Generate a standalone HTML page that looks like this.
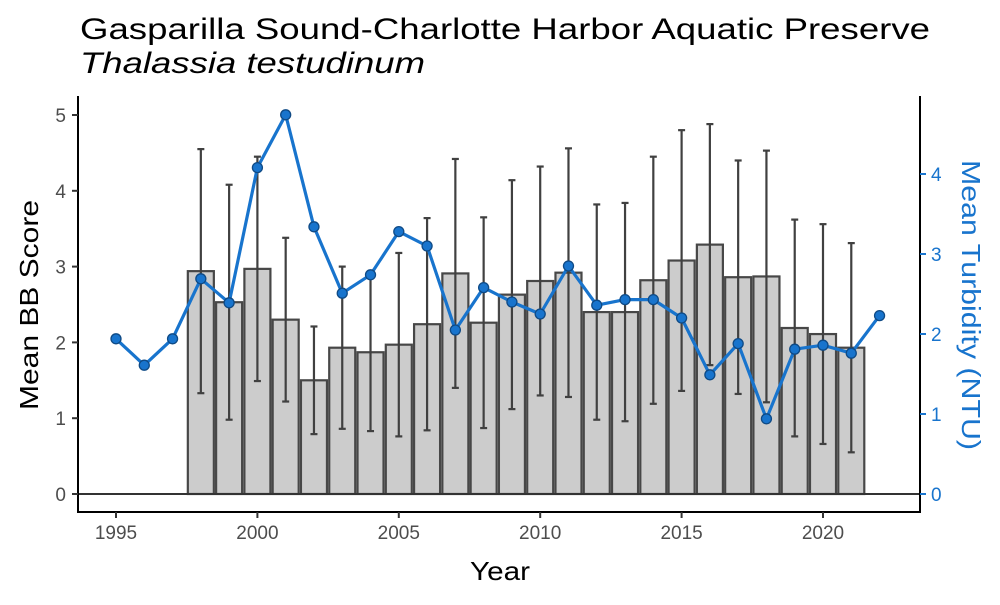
<!DOCTYPE html>
<html><head><meta charset="utf-8"><style>
body{margin:0;background:#fff}
svg text{font-family:"Liberation Sans",Arial,sans-serif}
</style></head><body>
<svg id="c" width="1000" height="600" xmlns="http://www.w3.org/2000/svg">
<text x="80" y="39" font-size="30" textLength="850" lengthAdjust="spacingAndGlyphs" fill="#000">Gasparilla Sound-Charlotte Harbor Aquatic Preserve</text>
<text x="80" y="73" font-size="30" font-style="italic" textLength="345" lengthAdjust="spacingAndGlyphs" fill="#000">Thalassia testudinum</text>
<g id="bars"></g>
<g id="axes"></g>
<g id="line"></g>
<text x="500" y="580" font-size="26" text-anchor="middle" textLength="60" lengthAdjust="spacingAndGlyphs">Year</text>
<text transform="translate(38,305) rotate(-90)" font-size="26" text-anchor="middle" textLength="210" lengthAdjust="spacingAndGlyphs">Mean BB Score</text>
<text transform="translate(962,305) rotate(90)" font-size="26" text-anchor="middle" textLength="290" lengthAdjust="spacingAndGlyphs" fill="#1874cd">Mean Turbidity (NTU)</text>
</svg>
<script>
const barYears=[1998,1999,2000,2001,2002,2003,2004,2005,2006,2007,2008,2009,2010,2011,2012,2013,2014,2015,2016,2017,2018,2019,2020,2021];
const bbMean=[2.94,2.53,2.97,2.30,1.50,1.93,1.87,1.97,2.24,2.91,2.26,2.63,2.81,2.92,2.40,2.40,2.82,3.08,3.29,2.86,2.87,2.19,2.11,1.93];
const bbSd=[1.61,1.55,1.48,1.08,0.71,1.07,1.04,1.21,1.40,1.51,1.39,1.51,1.51,1.64,1.42,1.44,1.63,1.72,1.59,1.54,1.66,1.43,1.45,1.38];
const turbYears=[1995,1996,1997,1998,1999,2000,2001,2002,2003,2004,2005,2006,2007,2008,2009,2010,2011,2012,2013,2014,2015,2016,2017,2018,2019,2020,2021,2022];
const turb=[1.94,1.61,1.94,2.69,2.39,4.08,4.74,3.34,2.51,2.74,3.28,3.10,2.05,2.58,2.40,2.25,2.85,2.36,2.43,2.43,2.20,1.49,1.88,0.94,1.81,1.86,1.76,2.23];
const xTicks=[1995,2000,2005,2010,2015,2020];
const yTicks=[0,1,2,3,4,5];
const y2Ticks=[0,1,2,3,4];
const NS="http://www.w3.org/2000/svg";
const X=v=>116+(v-1995)*28.28;
const Y=v=>494-v*75.8;
const Y2=v=>494-v*80;
function mk(t,a,p){const e=document.createElementNS(NS,t);for(const k in a)e.setAttribute(k,a[k]);p.appendChild(e);return e;}
const bars=document.getElementById('bars'),axes=document.getElementById('axes'),line=document.getElementById('line');
const bw=28.28*0.92;
barYears.forEach((yr,i)=>{
 const r=mk('rect',{x:X(yr)-bw/2,y:Y(bbMean[i]),width:bw,height:Y(0)-Y(bbMean[i]),fill:'#cccccc',stroke:'#474747','stroke-width':2.2},bars);
 
 
});
barYears.forEach((yr,i)=>{
 const g=mk('g',{stroke:'#404040','stroke-width':2.2},bars);
 
 
 const hi=Y(bbMean[i]+bbSd[i]),lo=Y(bbMean[i]-bbSd[i]);
 mk('line',{x1:X(yr),x2:X(yr),y1:hi,y2:lo},g);
 mk('line',{x1:X(yr)-3.5,x2:X(yr)+3.5,y1:hi,y2:hi},g);
 mk('line',{x1:X(yr)-3.5,x2:X(yr)+3.5,y1:lo,y2:lo},g);
});
const z=mk('line',{x1:78,x2:920,y1:Y(0),y2:Y(0),stroke:'#333','stroke-width':2},axes);

mk('line',{x1:78,x2:78,y1:96,y2:512,stroke:'#000','stroke-width':2},axes);
mk('line',{x1:920,x2:920,y1:96,y2:512,stroke:'#000','stroke-width':2},axes);
mk('line',{x1:77,x2:921,y1:512,y2:512,stroke:'#000','stroke-width':2},axes);
yTicks.forEach(t=>{
 mk('line',{x1:72,x2:78,y1:Y(t),y2:Y(t),stroke:'#333','stroke-width':2},axes);
 const tx=mk('text',{x:66,y:Y(t)+7,'font-size':19,'text-anchor':'end',fill:'#4d4d4d'},axes);tx.textContent=t;
 
});
y2Ticks.forEach(t=>{
 mk('line',{x1:920,x2:926,y1:Y2(t),y2:Y2(t),stroke:'#1874cd','stroke-width':2},axes);
 const tx=mk('text',{x:931,y:Y2(t)+7,'font-size':19,fill:'#1874cd'},axes);tx.textContent=t;
 
});
xTicks.forEach(t=>{
 mk('line',{x1:X(t),x2:X(t),y1:512,y2:518,stroke:'#333','stroke-width':2},axes);
 const tx=mk('text',{x:X(t),y:539,'font-size':19,'text-anchor':'middle',fill:'#4d4d4d'},axes);tx.textContent=t;
 
});
const pl=mk('polyline',{points:turbYears.map((y,i)=>X(y)+','+Y2(turb[i])).join(' '),fill:'none',stroke:'#1874cd','stroke-width':3.2,'stroke-linejoin':'round'},line);

turbYears.forEach((y,i)=>{
 const c=mk('circle',{cx:X(y),cy:Y2(turb[i]),r:5,fill:'#1874cd',stroke:'#0f4a85','stroke-width':1.3},line);
 
 
});
</script>
</body></html>
